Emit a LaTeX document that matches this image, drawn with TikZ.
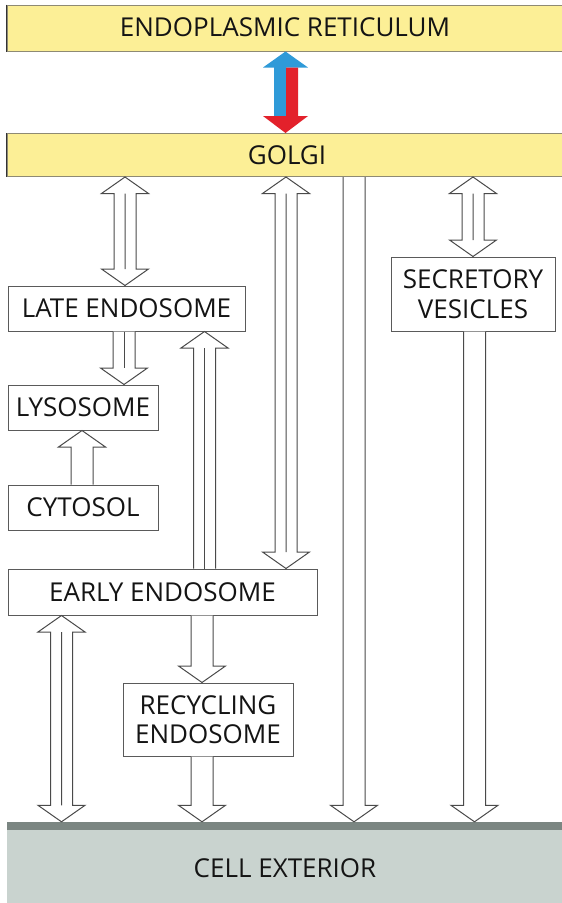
\documentclass[tikz,border=0pt]{standalone}
\usepackage{fontspec}
\setmainfont{Open Sans}
\usetikzlibrary{calc}
\definecolor{yel}{HTML}{FCEF96}
\definecolor{yelborder}{HTML}{8E8A74}
\definecolor{boxgray}{HTML}{5A5A5A}
\definecolor{arrgray}{HTML}{4A4A4A}
\definecolor{extfill}{HTML}{C9D3CF}
\definecolor{extband}{HTML}{7B8682}
\definecolor{upblue}{HTML}{2F9AD8}
\definecolor{downred}{HTML}{E3212B}
\tikzset{
  lbl/.style={font=\fontsize{26}{29.5}\selectfont, text=black!92},
  box/.style={lbl, draw=boxgray, line width=1pt, fill=white, inner sep=0pt, align=center},
  yelbox/.style={lbl, draw=yelborder, line width=1pt, fill=yel, inner sep=0pt},
  arrline/.style={draw=arrgray, line width=1pt, fill=white, line join=miter},
  midline/.style={draw=arrgray, line width=1pt}
}
% double arrow: x, top node, bottom node
\newcommand\dblarr[3]{%
  \path let \p1=(#2.south), \p2=(#3.north) in
    [arrline] ({#1pt-11pt},{\y1-16.5pt}) -- ({#1pt-23.5pt},{\y1-16.5pt}) -- ({#1pt},{\y1})
    -- ({#1pt+23.5pt},{\y1-16.5pt}) -- ({#1pt+11pt},{\y1-16.5pt}) -- ({#1pt+11pt},{\y2+16.5pt})
    -- ({#1pt+23.5pt},{\y2+16.5pt}) -- ({#1pt},{\y2}) -- ({#1pt-23.5pt},{\y2+16.5pt})
    -- ({#1pt-11pt},{\y2+16.5pt}) -- cycle
    [midline] ({#1pt},{\y1-16.5pt}) -- ({#1pt},{\y2+16.5pt});}
% up arrow: x, top node (target), bottom node (source)
\newcommand\uparr[3]{%
  \path let \p1=(#2.south), \p2=(#3.north) in
    [arrline] ({#1pt-11pt},{\y2}) -- ({#1pt-11pt},{\y1-16.5pt}) -- ({#1pt-23.5pt},{\y1-16.5pt}) -- ({#1pt},{\y1})
    -- ({#1pt+23.5pt},{\y1-16.5pt}) -- ({#1pt+11pt},{\y1-16.5pt}) -- ({#1pt+11pt},{\y2});}
\newcommand\uparrmid[3]{%
  \uparr{#1}{#2}{#3}
  \path let \p1=(#2.south), \p2=(#3.north) in [midline] ({#1pt},{\y1-16.5pt}) -- ({#1pt},{\y2});}
% down arrow: x, top node (source), bottom node (target)
\newcommand\downarr[3]{%
  \path let \p1=(#2.south), \p2=(#3.north) in
    [arrline] ({#1pt-11pt},{\y1}) -- ({#1pt-11pt},{\y2+16.5pt}) -- ({#1pt-23.5pt},{\y2+16.5pt}) -- ({#1pt},{\y2})
    -- ({#1pt+23.5pt},{\y2+16.5pt}) -- ({#1pt+11pt},{\y2+16.5pt}) -- ({#1pt+11pt},{\y1});}
\newcommand\downarrmid[3]{%
  \downarr{#1}{#2}{#3}
  \path let \p1=(#2.south), \p2=(#3.north) in [midline] ({#1pt},{\y1}) -- ({#1pt},{\y2+16.5pt});}
\begin{document}
\begin{tikzpicture}[x=1pt,y=-1pt]
\useasboundingbox[fill=white] (0,0) rectangle (562,903);
% yellow bands
\node[yelbox, minimum width=556, minimum height=46] (er) at (285,28) {};
\node[lbl] (erlbl) at (285,27.5) {ENDOPLASMIC RETICULUM};
\draw[black!80, line width=1pt] (er.north west) -- (er.south west);
\node[yelbox, minimum width=556, minimum height=43] (golgi) at (285,155) {};
\node[lbl] (golgilbl) at (287,155.5) {GOLGI};
\draw[black!80, line width=1pt] (golgi.north west) -- (golgi.south west);
% cell exterior
\node[fill=extfill, minimum width=555, minimum height=81, inner sep=0pt] (ext) at (284.5,862.5) {};
\fill[extband] (ext.north west) rectangle ++(555,8);
\node[lbl] (extlbl) at (285,868) {CELL EXTERIOR};
% boxes
\node[box, minimum width=237, minimum height=45] (late) at (126.5,308.5) {LATE ENDOSOME};
\node[box, minimum width=150, minimum height=45] (lyso) at (83,407.5) {LYSOSOME};
\node[box, minimum width=150, minimum height=45] (cyto) at (83,507.5) {CYTOSOL};
\node[box, minimum width=309, minimum height=46] (early) at (162.5,592) {EARLY ENDOSOME};
\node[box, minimum width=170, minimum height=73] (recyc) at (208,719.5) {RECYCLING\\ENDOSOME};
\node[box, minimum width=164, minimum height=74] (secr) at (473,294) {SECRETORY\\VESICLES};
% ER <-> Golgi coloured arrow
\fill[upblue] let \p1=(er.south), \p2=(golgi.north) in
  (274pt,{\y2+17pt}) -- (274pt,{\y1-16pt}) -- (263pt,{\y1-16pt}) -- (285.5pt,{\y1}) -- (308pt,{\y1-16pt})
  -- (286pt,{\y1-16pt}) -- (286pt,{\y2+17pt}) -- cycle;
\fill[downred] let \p1=(er.south), \p2=(golgi.north) in
  (286pt,{\y1-16pt}) -- (298pt,{\y1-16pt}) -- (298pt,{\y2+17pt}) -- (308pt,{\y2+17pt}) -- (285.5pt,{\y2})
  -- (263pt,{\y2+17pt}) -- (286pt,{\y2+17pt}) -- cycle;
% white arrows
\dblarr{125}{golgi}{late}
\downarrmid{124}{late}{lyso}
\uparr{82}{lyso}{cyto}
\uparrmid{204.5}{late}{early}
\dblarr{286}{golgi}{early}
\downarr{354}{golgi}{ext}
\dblarr{473}{golgi}{secr}
\downarr{474.5}{secr}{ext}
\dblarr{61.5}{early}{ext}
\downarr{202}{early}{recyc}
\downarr{202}{recyc}{ext}
\end{tikzpicture}
\end{document}
